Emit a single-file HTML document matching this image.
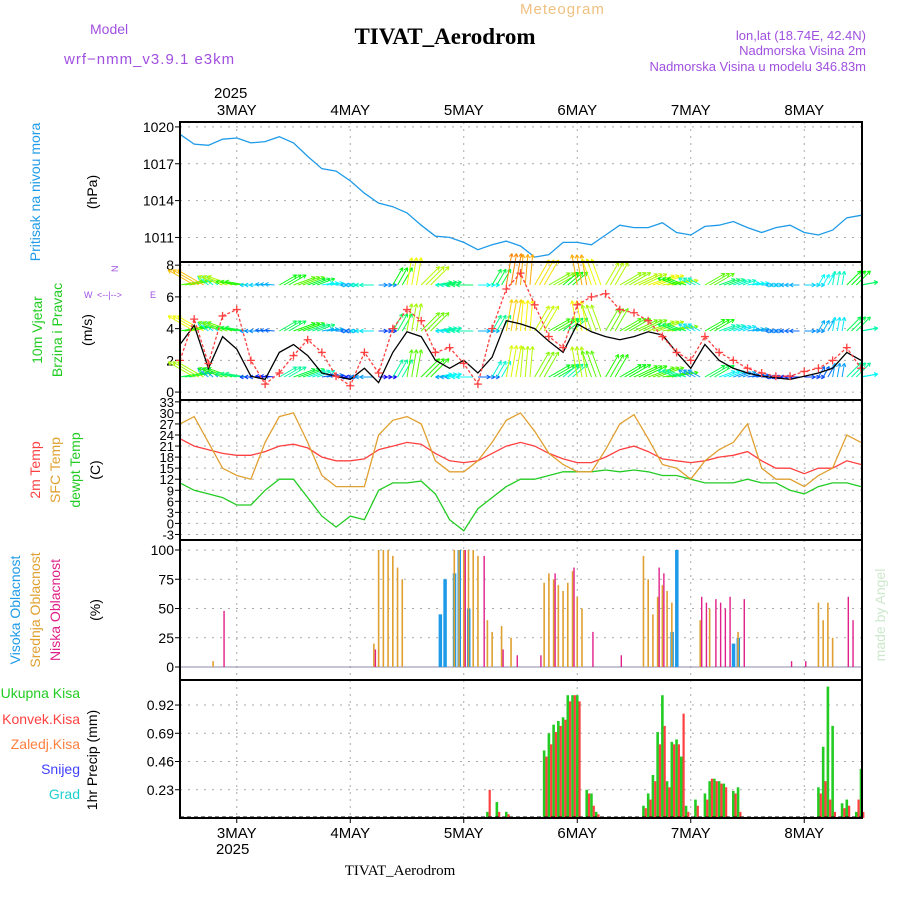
<!DOCTYPE html>
<html><head><meta charset="utf-8"><style>
body{margin:0;background:#fff;width:900px;height:900px;overflow:hidden}
svg{display:block}
text{font-family:"Liberation Sans",sans-serif}
</style></head><body>
<svg id="c" width="900" height="900" xmlns="http://www.w3.org/2000/svg">
<text x="90" y="34" font-size="14" fill="#a050e0">Model</text>
<text x="64" y="64" font-size="15" fill="#a050e0" letter-spacing="1">wrf−nmm_v3.9.1  e3km</text>
<text x="520" y="14" font-size="15" fill="#f0c080" letter-spacing="1">Meteogram</text>
<text x="445" y="44" font-size="23" font-weight="bold" style="font-family:'Liberation Serif',serif" text-anchor="middle" fill="#000">TIVAT_Aerodrom</text>
<text x="866" y="40" font-size="13" fill="#a050e0" text-anchor="end">lon,lat (18.74E, 42.4N)</text>
<text x="866" y="55" font-size="13" fill="#a050e0" text-anchor="end">Nadmorska Visina 2m</text>
<text x="866" y="71" font-size="13" fill="#a050e0" text-anchor="end">Nadmorska Visina u modelu 346.83m</text>
<text x="214" y="98" font-size="15" fill="#000">2025</text>
<text x="870" y="600" font-size="14" fill="#cde8cd" transform="rotate(-90 885 600)" text-anchor="middle">made by Angel</text>
<text x="400" y="875" font-size="15" style="font-family:'Liberation Serif',serif" text-anchor="middle">TIVAT_Aerodrom</text>
<text x="216" y="854" font-size="15">2025</text>
<g id="g"></g>
</svg>
<script>
const pressure=[1019.4,1018.6,1018.5,1019.0,1019.1,1018.7,1018.8,1019.2,1018.7,1017.6,1016.6,1016.4,1015.6,1014.6,1013.8,1013.5,1013.0,1012.0,1011.1,1011.0,1010.6,1010.0,1010.4,1010.7,1010.3,1009.4,1009.6,1010.6,1010.6,1010.4,1011.2,1012.0,1011.8,1011.8,1012.2,1011.4,1011.2,1011.9,1012.0,1012.3,1011.8,1011.4,1011.8,1012.0,1011.4,1011.2,1011.6,1012.6,1012.8];
const windSpeed=[3,4.2,1.5,3.5,2.7,1,0.8,2.5,3,2.3,1.2,1,0.8,1.5,0.6,2.5,3.8,3.5,2.0,1.5,2,1.2,2.2,4.5,4.3,4.0,3.2,2.5,4.3,3.8,3.5,3.3,3.5,3.8,3.6,2.5,1.5,3,2,1.5,1.2,1.0,0.9,0.8,1,1.2,1.5,2.5,2];
const windGust=[2,4.6,1.8,4.8,5.2,2,0.5,1.2,2.3,3.3,2.5,1.0,0.4,2.5,1.2,4.0,5.2,4.5,2.5,2.8,1.8,0.5,4.0,6.5,7.5,5.5,3.5,2.8,5.5,6,6.2,5.2,5.0,4.5,3.5,2.5,2.0,3.5,2.5,2.0,1.5,1.2,1.0,1.0,1.3,1.5,2.0,2.8,1.5];
const windDir=[10,150,140,160,170,180,175,30,20,20,10,0,180,180,0,60,80,45,10,180,180,0,60,80,85,60,30,40,100,110,60,30,25,20,10,160,150,30,20,20,10,0,180,180,0,60,80,45,10];
const temp2m=[23,21,20,19,18.5,18.5,19.5,21,21.5,20.5,18,17,17,17.5,20,21,22,21.5,19,17,16.5,17,19,21,22,21,19,17.5,16.5,16.5,18,20,21,19.5,17.5,17,16.5,17,18,18.5,19.5,17,15,15,13.5,15,15,17,16];
const tempSfc=[27,29,22,15,13,12,22,29,30,22,13,10,10,10,24,28,29,27,17,14,14,17,22,28,30,25,19,16,14,14,20,27,29.5,23,16,15,12,17,20,22,27,15,12,12,10,13,15,24,22];
const dewpt=[11,9,8,7,5,5,9,12,12,7,2,-1,2,1,9,11,11,11.5,8,1,-2,4,7,10,12,12,13,14,14,14,14.5,14,14.5,14,13,13,12,11,11,11,12,11,11,9,8,10,11,11,10];
const midHours=[7,41,42,43,44,45,46,47,58,59,60,61,62,63,65,66,68,70,77,78,79,80,81,82,83,84,85,98,99,100,101,102,103,104,110,112,118,135,136,137,138];
const midVals=[5,20,100,100,100,95,85,75,100,100,100,100,100,95,40,30,35,25,72,80,75,70,65,72,82,60,50,95,75,45,60,70,65,55,40,50,30,55,40,55,25];
const highHours=[55,56,58,59,61,104,105,117,118];
const highVals=[45,75,80,100,50,30,100,20,25];
const lowHours=[9,41,60,64,68,71,76,79,83,87,93,101,102,110,111,113,114,115,116,119,129,132,141,142];
const lowVals=[48,15,100,95,15,10,10,80,85,30,10,85,80,60,55,58,55,50,60,58,5,5,60,40];
const precHours=[65,67,69,77,78,79,80,81,82,83,84,86,87,88,98,99,100,101,102,103,104,105,106,107,109,111,112,113,114,115,117,118,135,136,137,138,140,141,143,144];
const precTotal=[0.05,0.13,0.05,0.55,0.69,0.76,0.79,0.82,1.0,1.0,1.0,0.23,0.2,0.05,0.1,0.2,0.35,0.7,1.0,0.3,0.62,0.64,0.5,0.1,0.15,0.2,0.3,0.32,0.3,0.28,0.22,0.25,0.25,0.58,1.07,0.75,0.12,0.15,0.05,0.4];
const precConv=[0.23,0.05,0.03,0.5,0.6,0.7,0.75,0.8,0.95,1.0,0.95,0.2,0.1,0.03,0.08,0.15,0.3,0.6,0.75,0.25,0.6,0.6,0.85,0.05,0.1,0.15,0.32,0.3,0.28,0.25,0.2,0.05,0.2,0.3,0.15,0.05,0.08,0.1,0.15,0.05];
const dayLabels=["3MAY","4MAY","5MAY","6MAY","7MAY","8MAY"];
const dayHours=[12,36,60,84,108,132];

const NS="http://www.w3.org/2000/svg",G=document.getElementById('g');
const X0=180,X1=862,PH=113.5/24;
const xh=h=>X0+h*PH, xi=i=>xh(i*3);
function el(t,a,p){const e=document.createElementNS(NS,t);for(const k in a)e.setAttribute(k,a[k]);(p||G).appendChild(e);return e;}
function txt(x,y,s,a){const e=el('text',Object.assign({x:x,y:y,'font-size':14},a||{}));e.textContent=s;return e;}
const panels=[
 {y0:122,y1:262,lo:1009,hi:1020.4,ticks:[1011,1014,1017,1020]},
 {y0:262,y1:400,lo:-0.5,hi:8.2,ticks:[0,2,4,6,8]},
 {y0:400,y1:540,lo:-4.5,hi:33.5,ticks:[-3,0,3,6,9,12,15,18,21,24,27,30,33]},
 {y0:540,y1:680,lo:-11,hi:108,ticks:[0,25,50,75,100]},
 {y0:680,y1:818,lo:0,hi:1.124,ticks:[0.23,0.46,0.69,0.92]}];
panels.forEach(p=>{p.y=v=>p.y1-(v-p.lo)/(p.hi-p.lo)*(p.y1-p.y0);});
panels[4].y=v=>818-v*122.8;
panels[3].y=v=>667-v*1.17;
const names=['pressure','wind','temperature','cloud','precip'];
panels.forEach((p,k)=>{
  const pg=el('g',{});  
  dayHours.forEach(h=>el('line',{x1:xh(h),x2:xh(h),y1:p.y0,y2:p.y1,stroke:'#aaa','stroke-dasharray':'2 5'},pg));
  p.ticks.forEach(t=>{const y=p.y(t);
    el('line',{x1:X0,x2:X1,y1:y,y2:y,stroke:'#aaa','stroke-dasharray':'2 6'},pg);
    el('line',{x1:X0-5,x2:X0,y1:y,y2:y,stroke:'#000'},pg);
    const lt=txt(X0-6,y+5,k==4?t.toFixed(2):String(t),{'text-anchor':'end','font-size':k==2?13:14});
     });
  p.g=pg;
});
function line(arr,p,color,name){const d=arr.map((v,i)=>(i?'L':'M')+xi(i).toFixed(1)+','+p.y(v).toFixed(1)).join('');
  const e=el('path',{d:d,fill:'none',stroke:color,'stroke-width':1.3});return e;}
line(pressure,panels[0],'#1e9be8','pressure-line');
function hue(s){return 'hsl('+Math.max(0,270-s*45)+',95%,50%)';}
const rows=[377,331,285];
for(let i=0;i<windDir.length;i++){for(let sub=0;sub<3;sub++){
  const idx=Math.min(i+sub/3,windDir.length-1), i0=Math.floor(idx);
  const s=windSpeed[i0], a=windDir[i0]*Math.PI/180, L=5+s*6;
  rows.forEach((ry,r)=>{const x=xh(idx*3),y=ry,x2=x+L*Math.cos(a),y2=y-L*Math.sin(a),c=hue(s+r*0.4);
    const ar=el('path',{d:`M${x},${y}L${x2},${y2}M${x2},${y2}L${x2-4*Math.cos(a-0.5)},${y2+4*Math.sin(a-0.5)}M${x2},${y2}L${x2-4*Math.cos(a+0.5)},${y2+4*Math.sin(a+0.5)}`,stroke:c,'stroke-width':1,fill:'none'});
    
    });
}}
line(windSpeed,panels[1],'#000','wind-speed-line');
line(windGust,panels[1],'#ff4040','wind-gust-line').setAttribute('stroke-dasharray','3 2');
windGust.forEach((v,i)=>{const x=xi(i),y=panels[1].y(v);
  const m=el('path',{d:`M${x-4},${y}h8M${x},${y-4}v8`,stroke:'#ff4040','stroke-width':1.3});
  
  });
line(dewpt,panels[2],'#22cc22','dewpoint-line');
line(temp2m,panels[2],'#ff4040','temp-2m-line');
line(tempSfc,panels[2],'#e0a030','sfc-temp-line');
el('line',{x1:X0,x2:X1,y1:667,y2:667,stroke:'#88a','stroke-width':1});
function bars(hours,vals,p,color,w,off,name){hours.forEach((h,i)=>{const y=p.y(vals[i]);
  const b=el('rect',{x:xh(h)+off,y:y,width:w,height:p.y(0)-y,fill:color});
  
  });}
bars(highHours,highVals,panels[3],'#1e9be8',3.5,-1.5,'high-cloud-bar');
bars(midHours,midVals,panels[3],'#e0a030',1.6,-0.8,'mid-cloud-bar');
bars(lowHours,lowVals,panels[3],'#e0208a',1.4,0.8,'low-cloud-bar');
bars(precHours,precTotal,panels[4],'#22cc22',2.6,-1.3,'total-precip-bar');
bars(precHours,precConv,panels[4],'#ff4040',2.2,1.2,'convective-precip-bar');
el('line',{x1:X0,x2:X1,y1:817,y2:817,stroke:'#000','stroke-dasharray':'4 3'});
panels.forEach(p=>el('rect',{x:X0,y:p.y0,width:X1-X0,height:p.y1-p.y0,fill:'none',stroke:'#000','stroke-width':2}));
dayHours.forEach((h,i)=>{const x=xh(h);
  const t1=txt(x,115,dayLabels[i],{'text-anchor':'middle','font-size':15});
  const t2=txt(x,838,dayLabels[i],{'text-anchor':'middle','font-size':15});
  el('line',{x1:x,x2:x,y1:818,y2:823,stroke:'#000'});});
function rot(x,y,s,c,name){const e=txt(x,y,s,{fill:c,'text-anchor':'middle','font-size':14,transform:`rotate(-90 ${x} ${y})`});}
rot(40,192,'Pritisak na nivou mora','#1e9be8','pressure-title');rot(97,192,'(hPa)','#000','pressure-unit');
rot(42,330,'10m Vjetar','#22cc22','wind-title-1');rot(62,330,'Brzina i Pravac','#22cc22','wind-title-2');rot(92,330,'(m/s)','#000','wind-unit');
rot(40,470,'2m Temp','#ff4040','temp-title');rot(60,470,'SFC Temp','#e0a030','sfc-title');rot(80,470,'dewpt Temp','#22cc22','dewpt-title');rot(100,470,'(C)','#000','temp-unit');
rot(20,610,'Visoka Oblacnost','#1e9be8','high-cloud-title');rot(40,610,'Srednja Oblacnost','#e0a030','mid-cloud-title');rot(60,610,'Niska Oblacnost','#e0208a','low-cloud-title');rot(100,610,'(%)','#000','cloud-unit');
rot(97,760,'1hr Precip (mm)','#000','precip-unit');
[['Ukupna Kisa','#22cc22',698],['Konvek.Kisa','#ff4040',724],['Zaledj.Kisa','#ff8040',749],['Snijeg','#4040ff',774],['Grad','#20d0d0',799]].forEach(a=>{
  const e=txt(80,a[2],a[0],{fill:a[1],'text-anchor':'end','font-size':14});});
txt(118,272,'N',{'font-size':9,fill:'#a050e0',transform:'rotate(-90 118 272)'});
txt(84,298,'W',{'font-size':9,fill:'#a050e0'});txt(150,298,'E',{'font-size':9,fill:'#a050e0'});
txt(97,298,'<--|-->',{'font-size':9,fill:'#a050e0'});
</script>
</body></html>
